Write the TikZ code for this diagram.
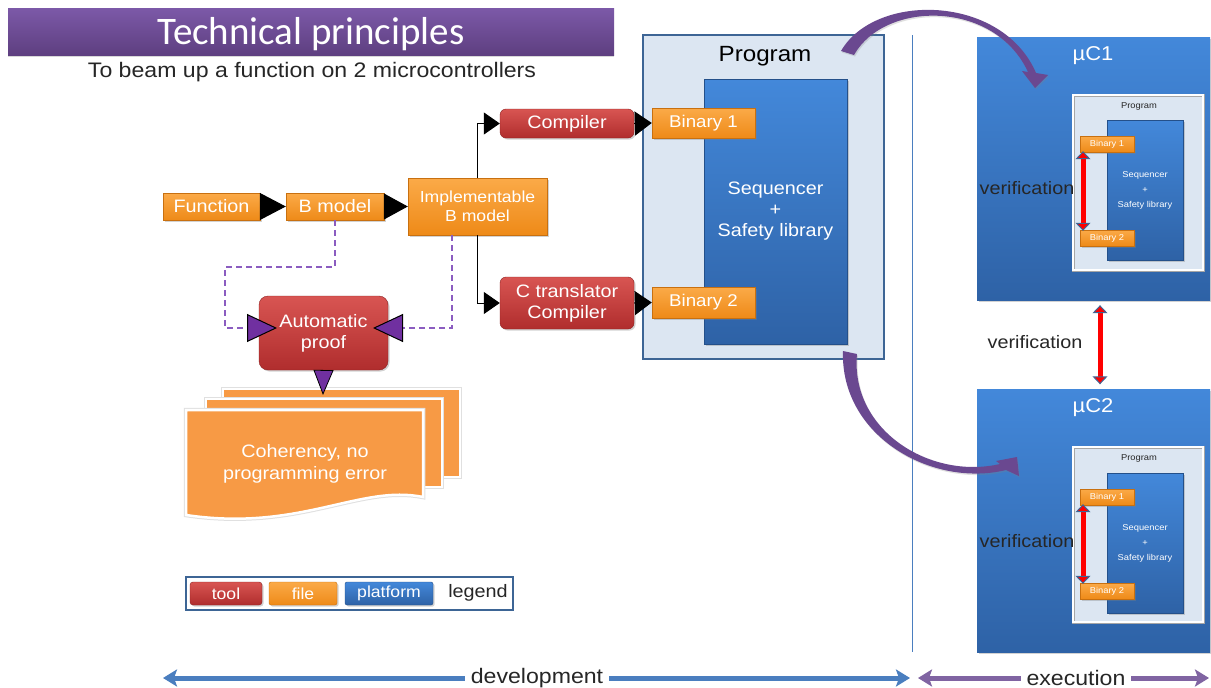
\documentclass[tikz,border=0pt]{standalone}
\usepackage{fontspec}
\setmainfont[FakeStretch=1.1]{Liberation Sans}
\newfontfamily\titlefont{Carlito}
\usetikzlibrary{arrows.meta,shadows,calc}
\definecolor{ttop}{HTML}{7C59A8}
\definecolor{tbot}{HTML}{5E3F80}
\definecolor{orT}{HTML}{FBAA48}
\definecolor{orB}{HTML}{EE8A18}
\definecolor{orD}{HTML}{C87010}
\definecolor{rdT}{HTML}{D85552}
\definecolor{rdB}{HTML}{B02D2D}
\definecolor{rdD}{HTML}{8E2222}
\definecolor{blT}{HTML}{4388DA}
\definecolor{blB}{HTML}{2E62A6}
\definecolor{blD}{HTML}{24508A}
\definecolor{lightbl}{HTML}{DCE6F2}
\definecolor{frameb}{HTML}{3D6595}
\definecolor{pdash}{HTML}{8B5CC0}
\definecolor{ptip}{HTML}{7030A0}
\definecolor{arcp}{HTML}{6A4890}
\definecolor{devb}{HTML}{4A7EBF}
\definecolor{execp}{HTML}{8064A2}
\definecolor{docor}{HTML}{F79A45}
\definecolor{txt}{HTML}{262626}
\newcommand\fsz[2]{\fontsize{#1}{#2}\selectfont}
\begin{document}
\begin{tikzpicture}[x=1pt,y=-1pt,
  sz/.style 2 args={minimum width=#1, minimum height=#2},
  box/.style={inner sep=0pt, align=center, text=white, font=\fsz{18}{21}},
  shad/.style={drop shadow={opacity=0.35, shadow xshift=1.5pt, shadow yshift=-1.5pt}},
  filebox/.style={box, shad, top color=orT, bottom color=orB, draw=orD, line width=0.4pt},
  toolbox/.style={box, shad, top color=rdT, bottom color=rdB, draw=rdD, line width=0.4pt, rounded corners=6pt},
  platbox/.style={box, shad, top color=blT, bottom color=blB, draw=blD, line width=0.4pt},
  blk/.style={line width=1pt, black},
  dashline/.style={draw=pdash, line width=1.6pt, dash pattern=on 6pt off 4pt},
  ptri/.style={-{Triangle[length=#1, width=28pt, fill=ptip, color=black, line width=1pt]}},
  docsheet/.style={fill=docor, draw=white, line width=2.5pt},
  docshadow/.style={draw=black!12, line width=4.5pt},
  redver/.style={line width=5pt, red, {Triangle[length=8pt,width=15pt,fill=red,color=frameb,line width=1pt]}-{Triangle[length=8pt,width=15pt,fill=red,color=frameb,line width=1pt]}},
  progframe/.style={fill=lightbl, draw=black!35, line width=0.5pt, double=white, double distance=2pt},
  vtext/.style={text=txt, font=\fsz{18}{21}},
  arcarrow/.style={fill=arcp, drop shadow={opacity=0.25, shadow xshift=1pt, shadow yshift=-1.5pt}}
]
\useasboundingbox (0,0) rectangle (1211,688);
\fill[white] (0,0) rectangle (1211,688);

% title
\node[sz={606pt}{47pt}, top color=ttop, bottom color=tbot, drop shadow={opacity=0.3, shadow xshift=0pt, shadow yshift=-2pt}] (title) at (311,31.5) {};
\node[anchor=base, text=white, font=\titlefont\fsz{39}{40}] (titlet) at (311,45) {Technical principles};
\node[text=txt, font=\fsz{21}{24}] (sub) at (312,72) {To beam up a function on 2 microcontrollers};

% program box
\node[fill=lightbl, draw=frameb, line width=1.2pt, sz={241pt}{324pt}] (prog) at (763.5,197) {};
\node[anchor=base, text=black, font=\fsz{22}{24}] (progt) at (765,61) {Program};
\node[platbox, sz={143pt}{265pt}] (seq) at (775.5,211.5) {Sequencer\\+\\Safety library};

% chain
\node[filebox, sz={97pt}{27pt}] (func) at (211.5,206.5) {Function};
\node[filebox, sz={98pt}{27pt}] (bmod) at (335,206.5) {B model};
\node[filebox, sz={139pt}{57pt}, font=\fsz{16}{19}] (impl) at (477.5,206.5) {Implementable\\B model};
\node[toolbox, sz={134pt}{29pt}] (comp) at (567,123.5) {Compiler};
\node[toolbox, sz={134pt}{52pt}] (ctr) at (567,303) {C translator\\Compiler};
\node[filebox, sz={103pt}{30pt}, font=\fsz{17}{20}] (bin1) at (703.5,123) {Binary 1};
\node[filebox, sz={103pt}{31pt}, font=\fsz{17}{20}] (bin2) at (703.5,302.5) {Binary 2};
\node[toolbox, sz={129pt}{74pt}, rounded corners=9pt] (proof) at (323.5,333) {Automatic\\proof};

\draw[blk, -{Triangle[length=26pt,width=27pt]}] (func.east) -- (bmod.west);
\draw[blk, -{Triangle[length=24pt,width=26pt]}] (bmod.east) -- (impl.west);
\draw[blk, -{Triangle[length=16pt,width=22pt]}] (impl.north) |- (comp.west);
\draw[blk, -{Triangle[length=16pt,width=22pt]}] (impl.south) |- (ctr.west);
\draw[blk, -{Triangle[length=17pt,width=24pt]}] (comp.east) -- (bin1.west);
\draw[blk, -{Triangle[length=17pt,width=24pt]}] (ctr.east) -- (bin2.west);

% dashed proof links
\coordinate (pl) at (260,328);
\coordinate (pr) at (388,328);
\coordinate (ib) at (452,235);
\coordinate (corner) at (225,267);
\draw[dashline, ptri=30pt, shorten >=-17pt] (bmod.south) |- (corner) |- (pl);
\draw[dashline, ptri=30pt, shorten >=-15pt] (ib) |- (pr);

% documents
\draw[docshadow] (223,389) rectangle (460,477);
\draw[docsheet] (223,389) rectangle (460,477);
\draw[docshadow] (206,399) rectangle (442,487);
\draw[docsheet] (206,399) rectangle (442,487);
\draw[docshadow] (186,410) -- (423,410) -- (423,497) .. controls (360,484) and (300,532) .. (186,515) -- cycle;
\draw[docsheet] (186,410) -- (423,410) -- (423,497) .. controls (360,484) and (300,532) .. (186,515) -- cycle;
\node[text=white, font=\fsz{18}{22}, align=center] (doct) at (305,464) {Coherency, no\\programming error};
\coordinate (doctop) at (323,395);
\draw[line width=0.8pt, -{Triangle[length=25pt,width=20pt,fill=ptip,color=black,line width=0.8pt]}] (proof.south) -- (doctop);

% legend
\node[fill=white, draw=frameb, line width=1.5pt, sz={327pt}{33pt}] (leg) at (349.5,593.5) {};
\node[toolbox, sz={72pt}{23pt}, rounded corners=3pt, font=\fsz{16}{18}] (lt) at (226,593.5) {tool};
\node[filebox, sz={68pt}{23pt}, rounded corners=2pt, font=\fsz{16}{18}] (lf) at (303,593.5) {file};
\node[platbox, sz={88pt}{23pt}, rounded corners=2pt, font=\fsz{16}{18}] (lp) at (389,593.5) {platform};
\node[text=txt, font=\fsz{18}{20}] (ll) at (478,593) {legend};

% separator
\draw[devb, line width=0.8pt] (912,35) -- (912,652);

% microcontrollers
\foreach \n/\yc/\pf/\sq/\ba/\bb/\vy/\lab in {1/168.5/182.5/190/144/238/188/{µC1}, 2/521/534.5/543/497/591/541/{µC2}} {
  \node[platbox, draw=none, sz={233pt}{263pt}] (mc\n) at (1093.5,\yc) {};
  \node[text=white, font=\fsz{20}{22}] (mct\n) at (1093,\yc-113) {\lab};
  \node[progframe, sz={130pt}{175pt}] (pf\n) at (1138,\pf) {};
  \node[text=txt, font=\fsz{8.5}{10}] (pft\n) at (1139,\pf-76) {Program};
  \node[platbox, sz={76pt}{140pt}, font=\fsz{8.5}{15}] (sq\n) at (1145,\sq) {Sequencer\\+\\Safety library};
  \node[filebox, sz={54pt}{16pt}, font=\fsz{8.5}{10}] (ba\n) at (1107,\ba) {Binary 1};
  \node[filebox, sz={54pt}{16pt}, font=\fsz{8.5}{10}] (bb\n) at (1107,\bb) {Binary 2};
  \draw[redver] ([xshift=-24pt,yshift=1pt]ba\n.south) -- ([xshift=-24pt,yshift=-1pt]bb\n.north);
  \node[vtext] (vt\n) at (1027,\vy) {verification};
}
\draw[redver, shorten <=5pt, shorten >=5pt] ([xshift=6.5pt]mc1.south) -- ([xshift=6.5pt]mc2.north);
\node[vtext] (vm) at (1035,342) {verification};

% curved arrows (tapered)
\path[arcarrow] (841,51) .. controls (875,-8) and (1002,-6) .. (1036,73) -- (1048,75) -- (1035,88) -- (1022,71) -- (1028,72) .. controls (995,0) and (885,0) .. (854,55) -- cycle;
\path[arcarrow] (857,354) .. controls (850,430) and (930,480) .. (1000,464) -- (996,461) -- (1017,457) -- (1019,476) -- (1006,470) .. controls (932,488) and (840,436) .. (843,351) -- cycle;

% bottom arrows
\coordinate (dl) at (163,678);
\coordinate (dr) at (910,678);
\coordinate (el) at (918,678);
\coordinate (er) at (1209,678);
\draw[devb, line width=5pt, {Stealth[length=14pt,width=17pt,inset=3pt]}-{Stealth[length=14pt,width=17pt,inset=3pt]}] (dl) -- (dr);
\node[fill=white, text=txt, font=\fsz{21}{23}, inner sep=6pt] (dev) at (537,678) {development};
\draw[execp, line width=5pt, {Stealth[length=14pt,width=17pt,inset=3pt]}-{Stealth[length=14pt,width=17pt,inset=3pt]}] (el) -- (er);
\node[fill=white, text=txt, font=\fsz{21}{23}, inner sep=6pt] (exe) at (1076,678) {execution};
\end{tikzpicture}
\end{document}
